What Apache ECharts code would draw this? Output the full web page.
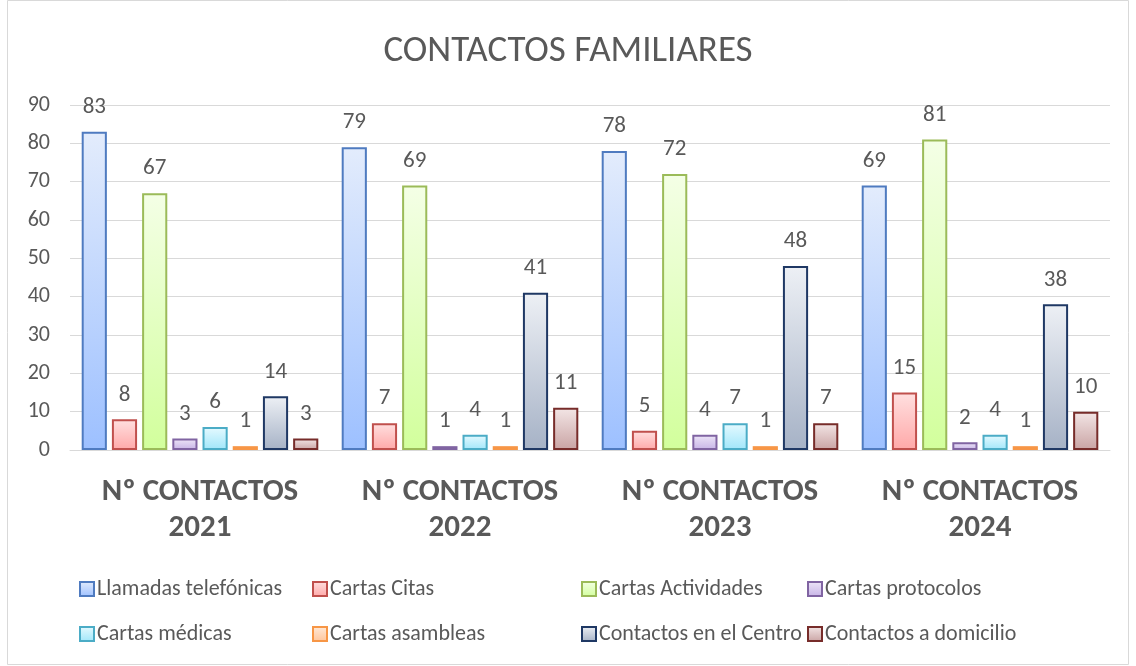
<!DOCTYPE html>
<html>
<head>
<meta charset="utf-8">
<script src="https://cdn.jsdelivr.net/npm/echarts@6/dist/echarts.min.js"></script>
<style>
	html,body{margin:0;padding:0;background:#fff;}
	#chart{width:1136px;height:666px;}
</style>
</head>
<body>
<div id="chart"></div>
<script>
	// 数据
	var categories = ['Nº CONTACTOS\n2021', 'Nº CONTACTOS\n2022', 'Nº CONTACTOS\n2023', 'Nº CONTACTOS\n2024'];
	var seriesNames = ['Llamadas telefónicas', 'Cartas Citas', 'Cartas Actividades', 'Cartas protocolos',
		'Cartas médicas', 'Cartas asambleas', 'Contactos en el Centro', 'Contactos a domicilio'];
	var llamadas = [83, 79, 78, 69];
	var citas = [8, 7, 5, 15];
	var actividades = [67, 69, 72, 81];
	var protocolos = [3, 1, 4, 2];
	var medicas = [6, 4, 7, 4];
	var asambleas = [1, 1, 1, 1];
	var centro = [14, 41, 48, 38];
	var domicilio = [3, 11, 7, 10];
	var allData = [llamadas, citas, actividades, protocolos, medicas, asambleas, centro, domicilio];

	// 颜色: [边框, 顶部, 底部]
	var colors = [
		['#4F7BC0', '#E3ECFC', '#9DC0FF'],
		['#C0504D', '#FFE0E0', '#FFA8A8'],
		['#9BBB59', '#F4FFE6', '#D2FF9C'],
		['#8064A2', '#EEE6F8', '#C6B3E6'],
		['#4BACC6', '#E6FAFF', '#A0E6FA'],
		['#F79646', '#FFEAD9', '#FFC49A'],
		['#1F3864', '#EDF0F5', '#A6B2C6'],
		['#772C2A', '#F3E6E6', '#C9A3A3']
	];
	var font = 'Carlito, "Liberation Sans", "Open Sans", sans-serif';
	var gray = '#595959';

	function grad(c){
		return new echarts.graphic.LinearGradient(0, 0, 0, 1, [
			{offset: 0, color: c[1]},
			{offset: 1, color: c[2]}
		]);
	}

	var series = [];
	for(var i = 0; i < seriesNames.length; i++){
		series.push({
			name: seriesNames[i],
			type: 'bar',
			data: allData[i],
			barGap: '20%',
			barCategoryGap: '9%',
			itemStyle: {
				color: grad(colors[i]),
				borderColor: colors[i][0],
				borderWidth: 2
			},
			label: {
				show: true,
				position: 'top',
				distance: 13,
				color: gray,
				fontSize: 23,
				fontFamily: font
			}
		});
	}

	// 图例列位置
	var legendLeft = [79, 312, 581, 807];
	var legendTop = [578, 623];
	var legends = [];
	for(var k = 0; k < seriesNames.length; k++){
		legends.push({
			left: legendLeft[k % 4],
			top: legendTop[Math.floor(k / 4)],
			data: [{name: seriesNames[k], icon: 'rect'}],
			itemWidth: 14,
			itemHeight: 14,
			itemGap: 0,
			padding: 0,
			textStyle: {color: gray, fontSize: 22, fontFamily: font, padding: [0, 0, 0, -2]},
			selectedMode: false
		});
	}

	var myChart = echarts.init(document.getElementById('chart'));
	var option = {
		backgroundColor: '#fff',
		animation: false,
		title: {
			text: 'CONTACTOS FAMILIARES',
			left: 'center',
			top: 28,
			textStyle: {color: gray, fontSize: 37, fontWeight: 'normal', fontFamily: font}
		},
		graphic: [{
			type: 'rect',
			shape: {x: 7.5, y: 0.5, width: 1121, height: 664},
			style: {fill: 'none', stroke: '#D9D9D9', lineWidth: 1},
			silent: true
		}],
		legend: legends,
		grid: {left: 70, right: 26, top: 105, bottom: 216},
		xAxis: {
			type: 'category',
			data: categories,
			axisTick: {show: false},
			axisLine: {lineStyle: {color: '#D9D9D9', width: 1}},
			axisLabel: {
				interval: 0,
				hideOverlap: false,
				color: gray,
				fontSize: 31,
				fontWeight: 'bold',
				fontFamily: font,
				lineHeight: 36,
				margin: 24
			}
		},
		yAxis: {
			type: 'value',
			min: 0,
			max: 90,
			interval: 10,
			axisLine: {show: false},
			axisTick: {show: false},
			splitLine: {lineStyle: {color: '#D9D9D9', width: 1}},
			axisLabel: {color: gray, fontSize: 22, fontFamily: font, margin: 20}
		},
		series: series
	};
	myChart.setOption(option);
</script>
</body>
</html>
